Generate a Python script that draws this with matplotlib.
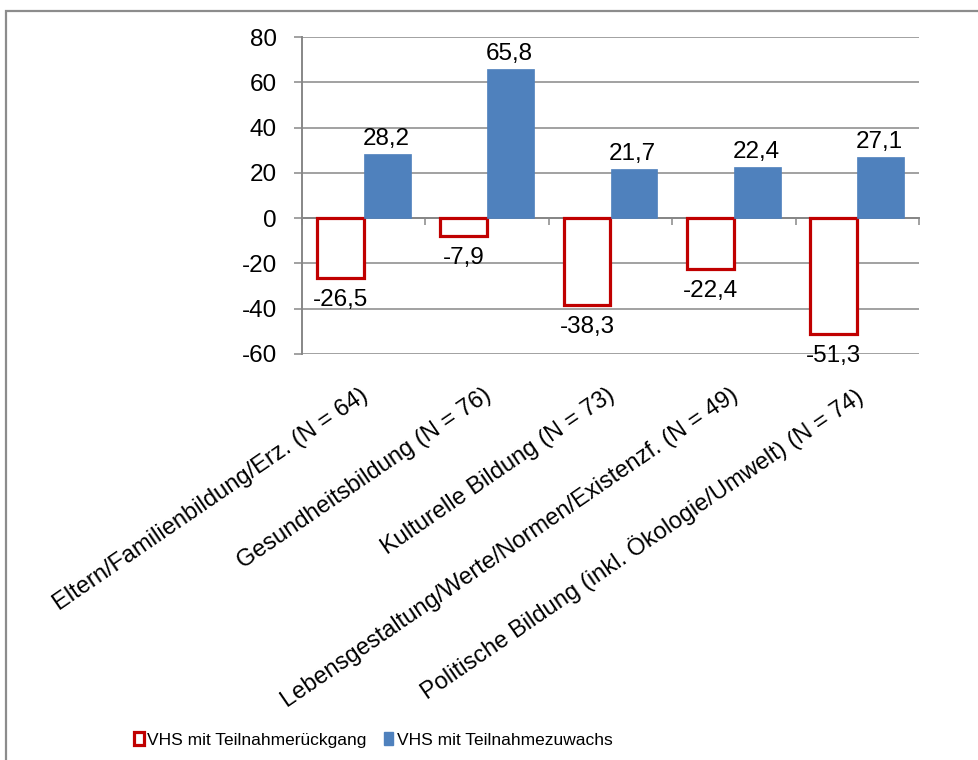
import matplotlib
matplotlib.use("Agg")
import matplotlib.pyplot as plt
import numpy as np
from matplotlib.patches import Rectangle, Patch
from matplotlib import transforms

plt.rcParams["font.family"] = ["Liberation Sans", "DejaVu Sans"]
plt.rcParams["axes.unicode_minus"] = False

categories = [
    "Eltern/Familienbildung/Erz. (N = 64)",
    "Gesundheitsbildung (N = 76)",
    "Kulturelle Bildung (N = 73)",
    "Lebensgestaltung/Werte/Normen/Existenzf. (N = 49)",
    "Politische Bildung (inkl. Ökologie/Umwelt) (N = 74)",
]
decline = [-26.5, -7.9, -38.3, -22.4, -51.3]
growth = [28.2, 65.8, 21.7, 22.4, 27.1]
series_names = ["VHS mit Teilnahmerückgang", "VHS mit Teilnahmezuwachs"]
y_ticks = [-60, -40, -20, 0, 20, 40, 60, 80]

RED = "#C00000"
BLUE = "#4F81BD"
GRID = "#878787"
FS = 17.5

W, H = 979, 760
fig = plt.figure(figsize=(W / 100, H / 100), dpi=100)
ax = fig.add_axes([302 / W, 1 - 354 / H, (919 - 302) / W, (354 - 37) / H])

x = np.arange(len(categories))
bw = 0.38
off = 0.19

ax.bar(x - off, decline, bw, facecolor="white", edgecolor=RED,
       linewidth=2.3, zorder=3)
ax.bar(x + off, growth, bw, facecolor=BLUE, edgecolor=BLUE,
       linewidth=0.5, zorder=3)

def fmt(v):
    return f"{v:.1f}".replace(".", ",")

for xi, v in zip(x - off, decline):
    ax.annotate(fmt(v), (xi, v), xytext=(0, -8), textcoords="offset points",
                ha="center", va="top", fontsize=FS, zorder=4)
for xi, v in zip(x + off, growth):
    ax.annotate(fmt(v), (xi, v), xytext=(-1, 3), textcoords="offset points",
                ha="center", va="bottom", fontsize=FS, zorder=4)

ax.set_xlim(-0.5, len(categories) - 0.5)
ax.set_ylim(y_ticks[0], y_ticks[-1])
ax.set_yticks(y_ticks)
ax.set_yticklabels([str(t) for t in y_ticks], fontsize=FS)
ax.yaxis.grid(True, color=GRID, linewidth=1.1, zorder=0)
ax.set_axisbelow(True)

for s in ["top", "right"]:
    ax.spines[s].set_visible(False)
ax.spines["left"].set_color(GRID)
ax.spines["left"].set_linewidth(1.4)
ax.spines["bottom"].set_position(("data", 0))
ax.spines["bottom"].set_color(GRID)
ax.spines["bottom"].set_linewidth(1.4)
ax.spines["bottom"].set_zorder(2)

ax.tick_params(axis="y", length=6, width=1.1, color=GRID, pad=12)
ax.set_xticks(np.arange(len(categories) + 1) - 0.5)
ax.set_xticklabels([])
ax.tick_params(axis="x", length=5, width=1.1, color=GRID, direction="out")

# rotated category labels below the plot area
for xi, lab in zip(x, categories):
    tr = transforms.offset_copy(ax.get_xaxis_transform(), fig=fig, x=-4, y=-30, units="dots")
    ax.text(xi, 0, lab, transform=tr, rotation=34.4, rotation_mode="anchor",
            ha="right", va="top", fontsize=17)

# outer chart frame
fig.patches.append(Rectangle((6 / W, -0.05), 1.1, 1 - 11 / H + 0.05,
                             transform=fig.transFigure, fill=False,
                             edgecolor="#8C8C8C", linewidth=1.6))

handles = [Patch(facecolor="white", edgecolor=RED, linewidth=2.3),
           Patch(facecolor=BLUE, edgecolor=BLUE)]
fig.legend(handles, series_names, loc="center left",
           bbox_to_anchor=(134 / W, 1 - 740 / H), ncol=2, frameon=False,
           prop={"size": 12.5},
           handlelength=0.55, handleheight=0.75, handletextpad=0.2,
           columnspacing=1.0, borderpad=0, borderaxespad=0)

fig.savefig("out.png", dpi=100)
